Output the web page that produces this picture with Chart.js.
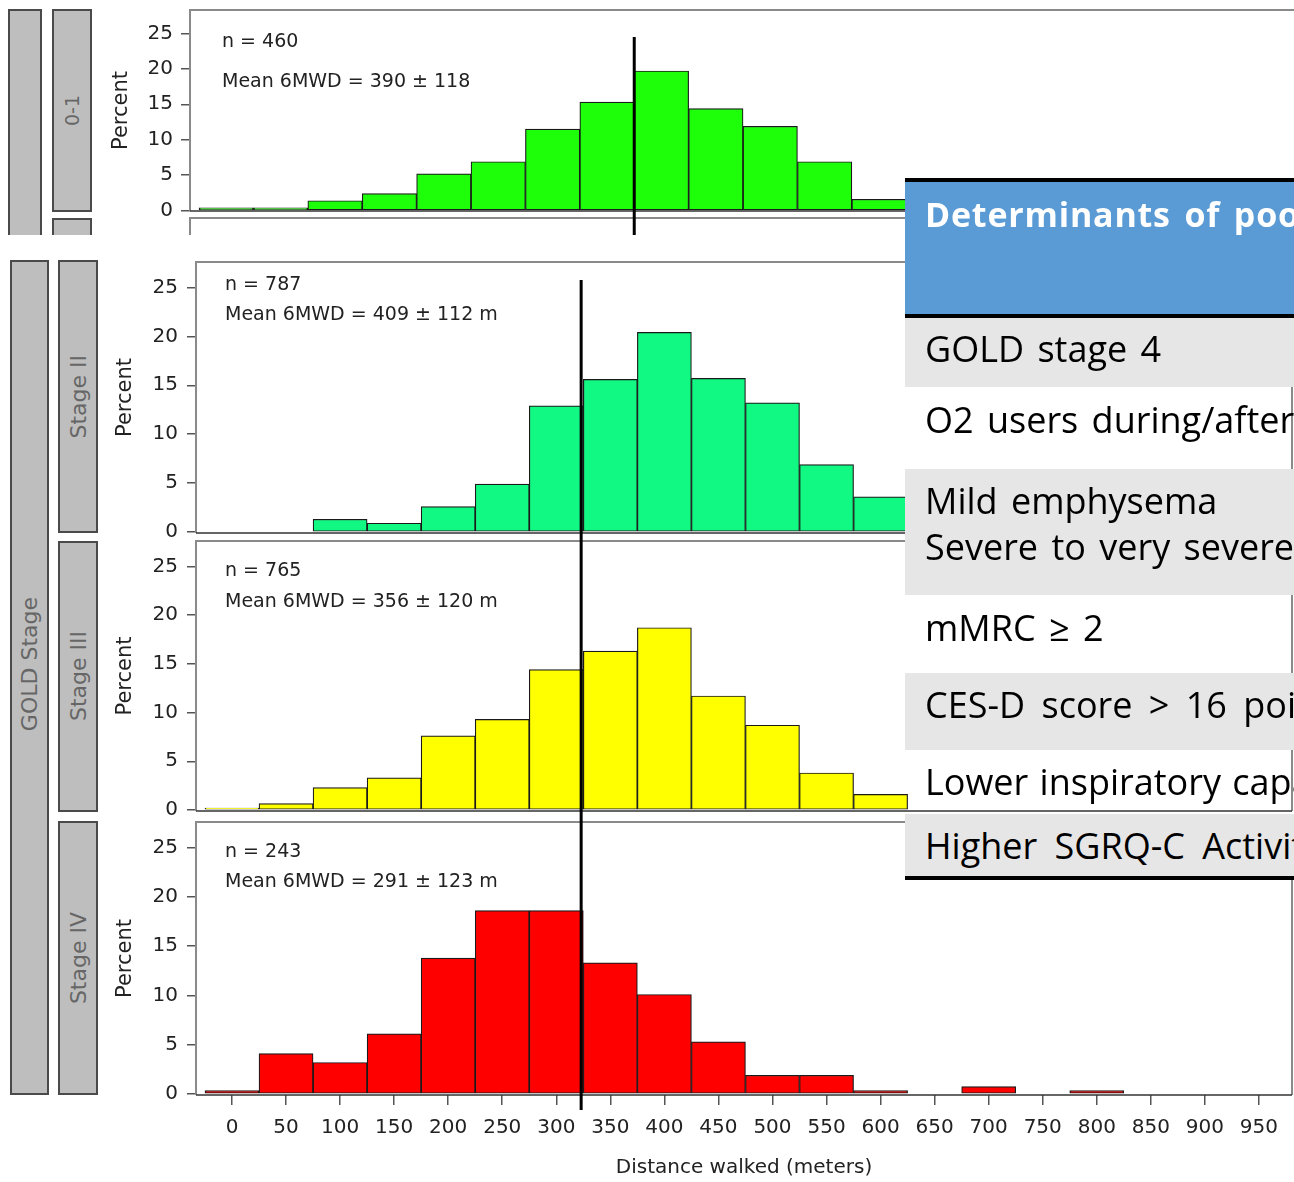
<!DOCTYPE html>
<html>
<head>
<meta charset="utf-8">
<script src="https://cdn.jsdelivr.net/npm/chart.js@4.4.1/dist/chart.umd.min.js"></script>
<style>
  html, body { margin: 0; padding: 0; background: #fff; }
  body { width: 1294px; height: 1182px; overflow: hidden; position: relative; font-family: 'DejaVu Sans', sans-serif; }
  canvas { position: absolute; left: 0; }
  #topCrop { position: absolute; left: 0; top: 0; width: 1294px; height: 235px; overflow: hidden; }
  .strip { position: absolute; box-sizing: border-box; background: #bebebe; border: 2px solid #4a4a4a;
           display: flex; align-items: center; justify-content: center; color: #666; font-size: 22px; }
  .strip span { writing-mode: vertical-rl; transform: rotate(180deg); white-space: nowrap; }
  #det { position: absolute; left: 905px; top: 178px; width: 420px; height: 702px; font-family: 'Open Sans', sans-serif; }
  #det .box { position: absolute; left: 0; width: 420px; }
  #det .txt { position: absolute; left: 20px; white-space: nowrap; font-size: 36px; line-height: 46px; color: #000; word-spacing: 4px; }
</style>
</head>
<body>

<div id="topCrop">
  <div class="strip" style="left:8px; top:9px; width:34px; height:260px;"></div>
  <div class="strip" style="left:52px; top:9px; width:40px; height:203px; font-size:19px;"><span>0-1</span></div>
  <div class="strip" style="left:52px; top:218px; width:40px; height:40px;"></div>
  <canvas id="panel01" width="1310" height="235" style="top:0;"></canvas>
</div>

<div class="strip" style="left:10px; top:260px; width:39px; height:835px; padding-bottom:26px;"><span>GOLD Stage</span></div>
<div class="strip" style="left:58px; top:260px; width:40px; height:273px;"><span>Stage II</span></div>
<div class="strip" style="left:58px; top:541px; width:40px; height:271px;"><span>Stage III</span></div>
<div class="strip" style="left:58px; top:821px; width:40px; height:274px;"><span>Stage IV</span></div>

<canvas id="panel2" width="1294" height="282" style="top:255px;"></canvas>
<canvas id="panel3" width="1294" height="281" style="top:537px;"></canvas>
<canvas id="panel4" width="1294" height="364" style="top:818px;"></canvas>

<div id="det">
  <div class="box" style="top:0; height:4px; background:#000;"></div>
  <div class="box" style="top:4px; height:132px; background:#5b9bd5;"></div>
  <div class="txt" style="top:13px; font-weight:bold; font-size:34px; color:#fff; letter-spacing:0.8px; word-spacing:4px;">Determinants of poor</div>
  <div class="box" style="top:136px; height:4px; background:#000;"></div>
  <div class="box" style="top:140px; height:69px; background:#e7e6e6;"></div>
  <div class="txt" style="top:148px;">GOLD stage 4</div>
  <div class="txt" style="top:219px;">O2 users during/after</div>
  <div class="box" style="top:291px; height:126px; background:#e7e6e6;"></div>
  <div class="txt" style="top:300px;">Mild emphysema</div>
  <div class="txt" style="top:346px;">Severe to very severe</div>
  <div class="txt" style="top:427px;">mMRC ≥ 2</div>
  <div class="box" style="top:495px; height:77px; background:#e7e6e6;"></div>
  <div class="txt" style="top:504px; word-spacing:7px;">CES-D score &gt; 16 points</div>
  <div class="txt" style="top:581px; word-spacing:2px;">Lower inspiratory capacity</div>
  <div class="box" style="top:636px; height:62px; background:#e7e6e6;"></div>
  <div class="txt" style="top:645px; word-spacing:8px;">Higher SGRQ-C Activity</div>
  <div class="box" style="top:698px; height:4px; background:#000;"></div>
</div>

<script>
// histogram bins (centre of each 50 m bin) and axis ticks
const binCenters = [0, 50, 100, 150, 200, 250, 300, 350, 400, 450, 500, 550, 600, 650, 700, 750, 800, 850, 900, 950];
const xTickValues = [0, 50, 100, 150, 200, 250, 300, 350, 400, 450, 500, 550, 600, 650, 700, 750, 800, 850, 900, 950];
const yTickValues = [0, 5, 10, 15, 20, 25];

// percent of patients per bin (bins hidden behind the table are left out)
const gold01Pct = [0.4, 0.4, 1.4, 2.4, 5.2, 6.9, 11.5, 15.3, 19.7, 14.4, 11.9, 6.9, 1.6];
const stage2Pct = [null, null, 1.3, 0.9, 2.6, 4.9, 12.9, 15.6, 20.4, 15.7, 13.2, 6.9, 3.6];
const stage3Pct = [0.2, 0.65, 2.3, 3.3, 7.6, 9.3, 14.4, 16.3, 18.7, 11.7, 8.7, 3.8, 1.6];
const stage4Pct = [0.35, 4.1, 3.2, 6.1, 13.8, 18.6, 18.6, 13.3, 10.1, 5.3, 1.9, 1.9, 0.35, null, 0.75, null, 0.35, null, null, null];

const panelNs = ['n = 460', 'n = 787', 'n = 765', 'n = 243'];
const panelMeans = ['Mean 6MWD = 390 \u00b1 118', 'Mean 6MWD = 409 \u00b1 112 m', 'Mean 6MWD = 356 \u00b1 120 m', 'Mean 6MWD = 291 \u00b1 123 m'];

// vertical reference lines (metres)
const refLineTop = 375;
const refLineBottom = 323;

const FONT = 'DejaVu Sans';

// draws the panel frame, the n / mean text and the vertical reference line
const panelDecor = {
    id: 'panelDecor',
    afterDatasetsDraw(chart, args, opts) {
        const { ctx, chartArea: a, scales: { x } } = chart;
        ctx.save();

        // frame
        ctx.strokeStyle = '#8a8a8a';
        ctx.lineWidth = 2;
        ctx.beginPath();
        ctx.moveTo(a.left, a.bottom);
        ctx.lineTo(a.left, a.top);
        ctx.lineTo(a.right, a.top);
        ctx.lineTo(a.right, a.bottom);
        ctx.stroke();

        if (opts.nextFrame) {
            ctx.beginPath();
            ctx.moveTo(a.left, chart.height + 5);
            ctx.lineTo(a.left, a.bottom + 7);
            ctx.lineTo(a.right, a.bottom + 7);
            ctx.stroke();
        }

        // baseline
        ctx.strokeStyle = '#333';
        ctx.lineWidth = 1.5;
        ctx.beginPath();
        ctx.moveTo(a.left, a.bottom);
        ctx.lineTo(a.right, a.bottom);
        ctx.stroke();

        // labels
        ctx.fillStyle = '#222';
        ctx.font = '19px "' + FONT + '"';
        ctx.textBaseline = 'middle';
        ctx.textAlign = 'left';
        ctx.fillText(opts.nText, a.left + opts.dx, a.top + opts.dy[0]);
        ctx.fillText(opts.meanText, a.left + opts.dx, a.top + opts.dy[1]);

        // reference line
        const mx = x.getPixelForValue(opts.refValue);
        ctx.strokeStyle = '#000';
        ctx.lineWidth = 3;
        ctx.beginPath();
        ctx.moveTo(mx, Math.max(opts.lineFrom - opts.canvasTop, 0));
        ctx.lineTo(mx, Math.min(opts.lineTo - opts.canvasTop, chart.height));
        ctx.stroke();

        ctx.restore();
    }
};

function makePanel(id, values, color, cfg) {
    const points = values.map((v, i) => ({ x: binCenters[i], y: v }));
    return new Chart(document.getElementById(id), {
        type: 'bar',
        data: {
            datasets: [{
                data: points,
                backgroundColor: color,
                borderColor: '#1a1a1a',
                borderWidth: 1.2,
                borderSkipped: false,
                barPercentage: 1,
                categoryPercentage: 1
            }]
        },
        options: {
            responsive: false,
            animation: false,
            devicePixelRatio: 1,
            layout: { padding: cfg.padding },
            plugins: {
                legend: { display: false },
                tooltip: { enabled: false },
                panelDecor: cfg.decor
            },
            scales: {
                x: {
                    type: 'linear',
                    min: cfg.xMin,
                    max: cfg.xMax,
                    offset: false,
                    display: cfg.showX,
                    afterBuildTicks: axis => { axis.ticks = xTickValues.map(v => ({ value: v })); },
                    afterFit: axis => {
                        axis.height = cfg.showX ? 87 : 0;
                        axis.paddingLeft = 0;
                        axis.paddingRight = 0;
                    },
                    grid: { offset: false, drawOnChartArea: false, drawTicks: true, tickLength: 10, color: '#555', lineWidth: 1.5 },
                    border: { display: false },
                    ticks: { font: { family: FONT, size: 20 }, color: '#222', padding: 11, maxRotation: 0, autoSkip: false },
                    title: {
                        display: true,
                        text: 'Distance walked (meters)',
                        font: { family: FONT, size: 20 },
                        color: '#222',
                        padding: { top: 0, bottom: 2 }
                    }
                },
                y: {
                    min: cfg.yMin,
                    max: cfg.yMax,
                    afterBuildTicks: axis => { axis.ticks = yTickValues.map(v => ({ value: v })); },
                    afterFit: axis => {
                        axis.width = 90;
                        axis.paddingTop = 0;
                        axis.paddingBottom = 0;
                    },
                    grid: { drawOnChartArea: false, drawTicks: true, tickLength: 9, color: '#555', lineWidth: 1.5 },
                    border: { display: false },
                    ticks: { font: { family: FONT, size: 20 }, color: '#222', padding: cfg.yPad },
                    title: {
                        display: true,
                        text: 'Percent',
                        font: { family: FONT, size: 21 },
                        color: '#222',
                        padding: { top: cfg.titlePad, bottom: 0 }
                    }
                }
            }
        },
        plugins: [panelDecor]
    });
}

// GOLD 0-1 strip (separate crop, slightly offset)
makePanel('panel01', gold01Pct, '#1eff0a', {
    padding: { left: 100, right: 10, top: 10, bottom: 24 },
    xMin: -33.3, xMax: 986.9, yMin: -0.05, yMax: 28.3,
    showX: false, yPad: 8, titlePad: 9,
    decor: { nText: panelNs[0], meanText: panelMeans[0], dx: 32, dy: [32, 72],
             refValue: refLineTop, lineFrom: 37, lineTo: 240, canvasTop: 0, nextFrame: true }
});

const bottomX = { xMin: -33.3, xMax: 980.6 };

makePanel('panel2', stage2Pct, '#11f982', {
    padding: { left: 106, right: 2, top: 7, bottom: 4 },
    xMin: bottomX.xMin, xMax: bottomX.xMax, yMin: -0.1, yMax: 27.6,
    showX: false, yPad: 9, titlePad: 7,
    decor: { nText: panelNs[1], meanText: panelMeans[1], dx: 29, dy: [23, 53],
             refValue: refLineBottom, lineFrom: 280, lineTo: 1110, canvasTop: 255 }
});

makePanel('panel3', stage3Pct, '#ffff00', {
    padding: { left: 106, right: 2, top: 4, bottom: 7 },
    xMin: bottomX.xMin, xMax: bottomX.xMax, yMin: -0.1, yMax: 27.6,
    showX: false, yPad: 9, titlePad: 7,
    decor: { nText: panelNs[2], meanText: panelMeans[2], dx: 29, dy: [30, 61],
             refValue: refLineBottom, lineFrom: 280, lineTo: 1110, canvasTop: 537 }
});

makePanel('panel4', stage4Pct, '#ff0000', {
    padding: { left: 106, right: 2, top: 4, bottom: 0 },
    xMin: bottomX.xMin, xMax: bottomX.xMax, yMin: -0.1, yMax: 27.6,
    showX: true, yPad: 9, titlePad: 7,
    decor: { nText: panelNs[3], meanText: panelMeans[3], dx: 29, dy: [30, 60],
             refValue: refLineBottom, lineFrom: 280, lineTo: 1110, canvasTop: 818 }
});
</script>
</body>
</html>
